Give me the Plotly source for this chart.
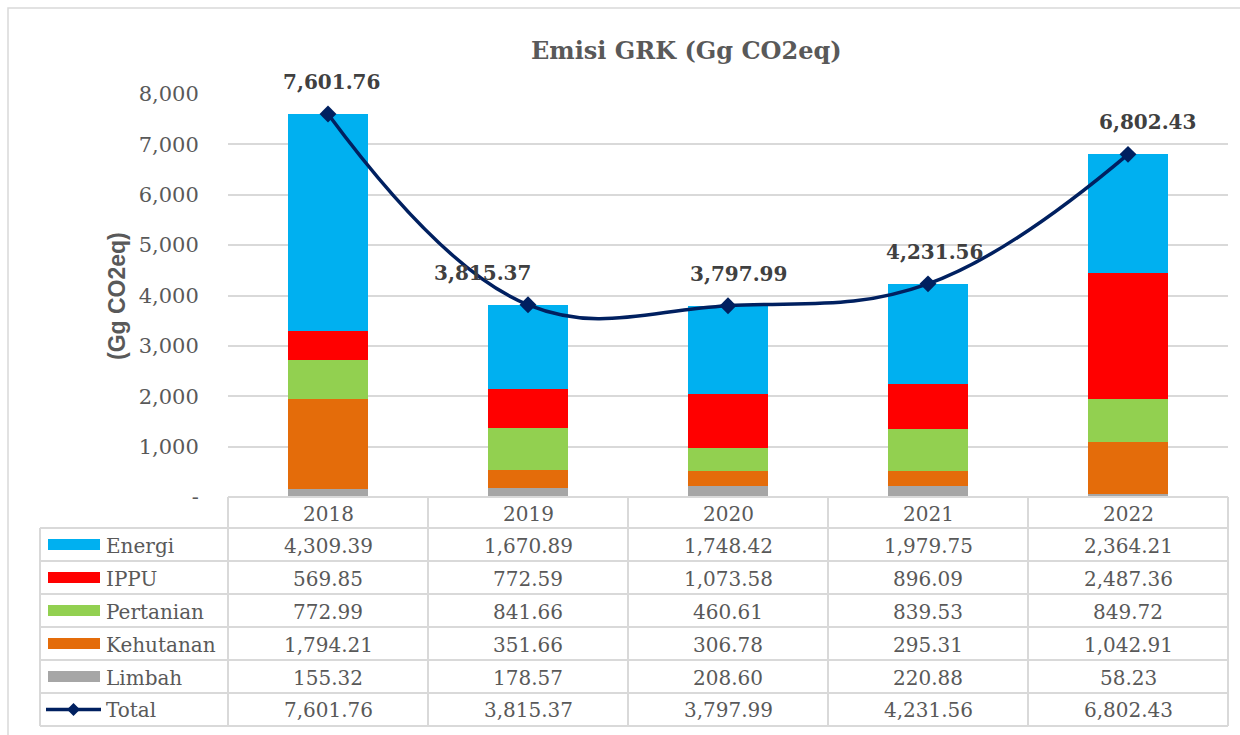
import plotly.graph_objects as go

years = ["2018", "2019", "2020", "2021", "2022"]
energi = [4309.39, 1670.89, 1748.42, 1979.75, 2364.21]
ippu = [569.85, 772.59, 1073.58, 896.09, 2487.36]
pertanian = [772.99, 841.66, 460.61, 839.53, 849.72]
kehutanan = [1794.21, 351.66, 306.78, 295.31, 1042.91]
limbah = [155.32, 178.57, 208.60, 220.88, 58.23]
total = [7601.76, 3815.37, 3797.99, 4231.56, 6802.43]

series_names = ["Energi", "IPPU", "Pertanian", "Kehutanan", "Limbah"]
series_vals = [energi, ippu, pertanian, kehutanan, limbah]
series_colors = ["#00B0F0", "#FF0000", "#92D050", "#E46C0A", "#A6A6A6"]
line_color = "#002060"

y_ticks = [0, 1000, 2000, 3000, 4000, 5000, 6000, 7000, 8000]
y_ticktext = ["-"] + [f"{v:,}" for v in y_ticks[1:]]

# label pixel offsets (style)
label_dx = [3, -46, 10, 6, 19]

W, H = 1240, 735
L, R, T, B = 228, 12, 94, 238
PW, PH = W - L - R, H - T - B


def px(x):
    return (x - L) / PW


def py(y):
    return (H - B - y) / PH


SERIF = "DejaVu Serif"
GRAY = "#595959"

fig = go.Figure()
xs = list(range(len(years)))

# stacked bars bottom -> top
for name, vals, col in reversed(list(zip(series_names, series_vals, series_colors))):
    fig.add_trace(go.Bar(x=xs, y=vals, name=name, marker=dict(color=col, line=dict(width=0)),
                         width=0.4, showlegend=False))

fig.add_trace(go.Scatter(x=xs, y=total, mode="lines+markers", name="Total",
                         line=dict(color=line_color, width=3.5, shape="spline", smoothing=1.15),
                         marker=dict(symbol="diamond", size=13, color=line_color),
                         showlegend=False, cliponaxis=False))

annotations = []
shapes = []


def ann(**kw):
    kw.setdefault("xanchor", "center")
    kw.setdefault("yanchor", "middle")
    kw.setdefault("showarrow", False)
    annotations.append(kw)


# data labels
for i, v in enumerate(total):
    ann(x=i, y=v, xref="x", yref="y", text=f"<b>{v:,.2f}</b>",
        xshift=label_dx[i], yshift=32,
        font=dict(family=SERIF, size=20, color="#404040"))

# title
ann(x=px(686), y=py(50), xref="paper", yref="paper",
    text="<b>Emisi GRK (Gg CO2eq)</b>",
    font=dict(family=SERIF, size=24, color=GRAY))
# y-axis title
ann(x=px(117), y=py(296), xref="paper", yref="paper",
    text="<b>(Gg CO2eq)</b>", textangle=-90,
    font=dict(family="Liberation Sans", size=23, color=GRAY))

# data table
row_top = 497
header_h = 31
row_h = 33
col_left = 40
grid = "#D9D9D9"


def hline(x0, x1, y):
    shapes.append(dict(type="line", xref="paper", yref="paper", x0=px(x0), x1=px(x1),
                       y0=py(y), y1=py(y), line=dict(color=grid, width=2)))


def vline(x, y0, y1):
    shapes.append(dict(type="line", xref="paper", yref="paper", x0=px(x), x1=px(x),
                       y0=py(y0), y1=py(y1), line=dict(color=grid, width=2)))


n_rows = len(series_names) + 1
bottom = row_top + header_h + n_rows * row_h
hline(L, W - R, row_top)
for r in range(n_rows + 1):
    hline(col_left, W - R, row_top + header_h + r * row_h)
vline(col_left, row_top + header_h, bottom)
for c in range(len(years) + 1):
    vline(L + c * PW / len(years), row_top, bottom)

# header years
for c, yr in enumerate(years):
    ann(x=c, y=py(row_top + header_h / 2 + 1), xref="x", yref="paper", text=yr,
        font=dict(family=SERIF, size=20, color=GRAY))

row_labels = series_names + ["Total"]
row_vals = series_vals + [total]
for r, (lab, vals) in enumerate(zip(row_labels, row_vals)):
    cy = row_top + header_h + r * row_h + row_h / 2
    ann(x=px(104), y=py(cy + 1), xref="paper", yref="paper", text=lab, xanchor="left",
        font=dict(family=SERIF, size=20, color=GRAY))
    for c, v in enumerate(vals):
        ann(x=c, y=py(cy + 1), xref="x", yref="paper", text=f"{v:,.2f}",
            font=dict(family=SERIF, size=20, color=GRAY))
    if r < len(series_names):
        shapes.append(dict(type="rect", xref="paper", yref="paper", x0=px(48), x1=px(100),
                           y0=py(cy - 5.5), y1=py(cy + 5.5), fillcolor=series_colors[r],
                           line=dict(width=0)))
    else:
        shapes.append(dict(type="line", xref="paper", yref="paper", x0=px(46), x1=px(101),
                           y0=py(cy), y1=py(cy), line=dict(color=line_color, width=3.5)))
        shapes.append(dict(type="path", xref="paper", yref="paper",
                           path=f"M {px(67)} {py(cy)} L {px(73.5)} {py(cy - 6.5)} L {px(80)} {py(cy)} L {px(73.5)} {py(cy + 6.5)} Z",
                           fillcolor=line_color, line=dict(width=0)))

# outer chart border
shapes.append(dict(type="rect", xref="paper", yref="paper", x0=px(8), x1=px(1250),
                   y0=py(745), y1=py(8), line=dict(color=grid, width=1.5), layer="below"))

fig.update_layout(
    width=W, height=H,
    margin=dict(l=L, r=R, t=T, b=B),
    paper_bgcolor="white", plot_bgcolor="white",
    barmode="stack", bargap=0.6,
    showlegend=False,
    annotations=annotations, shapes=shapes,
    xaxis=dict(range=[-0.5, len(years) - 0.5], showticklabels=False, showgrid=False,
               zeroline=False, showline=False, ticks=""),
    yaxis=dict(range=[0, 8000], tickvals=y_ticks, ticktext=y_ticktext,
               showgrid=True, gridcolor=grid, gridwidth=2, zeroline=False,
               tickfont=dict(family=SERIF, size=21, color=GRAY),
               ticks="outside", ticklen=24, tickcolor="rgba(0,0,0,0)",
               showline=False),
)

fig.write_html("out.html", config={"displayModeBar": False},
               post_script="document.body.style.margin='0';")
